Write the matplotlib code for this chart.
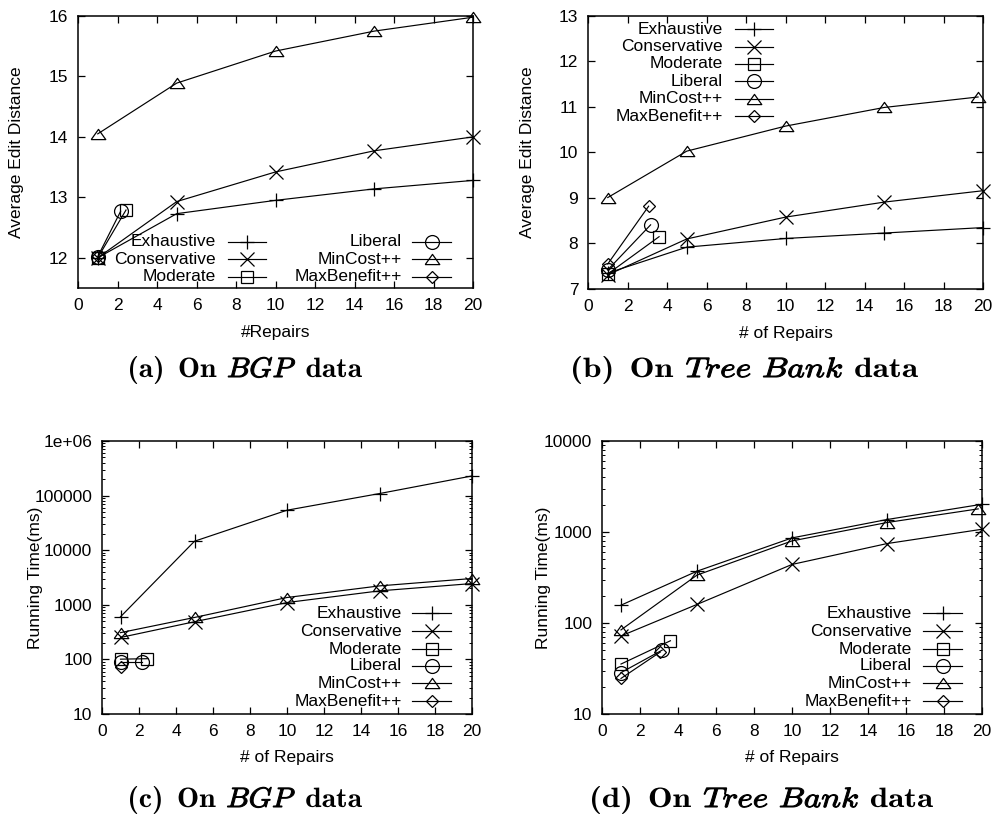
import matplotlib
matplotlib.use("Agg")
import matplotlib.pyplot as plt
from matplotlib.lines import Line2D
from matplotlib.patches import PathPatch
from matplotlib.textpath import TextPath
from matplotlib.font_manager import FontProperties
from matplotlib.transforms import Affine2D
from matplotlib.ticker import FixedLocator, FixedFormatter, LogLocator, NullFormatter

W, H = 1000, 821

series = ["Exhaustive", "Conservative", "Moderate", "Liberal", "MinCost++", "MaxBenefit++"]
repairs = [1, 5, 10, 15, 20]

# (a) average edit distance, BGP data
bgp_ed_x = {
    "Exhaustive": repairs,
    "Conservative": repairs,
    "Moderate": [1, 2.43],
    "Liberal": [1, 2.16],
    "MinCost++": repairs,
    "MaxBenefit++": [1],
}
bgp_ed_y = {
    "Exhaustive": [12.0, 12.73, 12.95, 13.14, 13.28],
    "Conservative": [12.0, 12.93, 13.42, 13.77, 14.0],
    "Moderate": [12.0, 12.79],
    "Liberal": [12.02, 12.77],
    "MinCost++": [14.05, 14.89, 15.42, 15.75, 15.98],
    "MaxBenefit++": [12.03],
}

# (b) average edit distance, Tree Bank data
tb_ed_x = {
    "Exhaustive": repairs,
    "Conservative": repairs,
    "Moderate": [1, 3.6],
    "Liberal": [1, 3.17],
    "MinCost++": [1, 5, 10, 15, 19.75],
    "MaxBenefit++": [1, 3.07],
}
tb_ed_y = {
    "Exhaustive": [7.35, 7.92, 8.11, 8.23, 8.35],
    "Conservative": [7.31, 8.10, 8.58, 8.91, 9.16],
    "Moderate": [7.33, 8.15],
    "Liberal": [7.42, 8.41],
    "MinCost++": [9.01, 10.03, 10.58, 10.99, 11.22],
    "MaxBenefit++": [7.55, 8.82],
}

# (c) running time (ms), BGP data
bgp_rt_x = {
    "Exhaustive": repairs,
    "Conservative": repairs,
    "Moderate": [1, 2.45],
    "Liberal": [1, 2.16],
    "MinCost++": repairs,
    "MaxBenefit++": [1],
}
bgp_rt_y = {
    "Exhaustive": [603, 14600, 54000, 109000, 229000],
    "Conservative": [252, 490, 1100, 1800, 2450],
    "Moderate": [101, 103],
    "Liberal": [91, 91],
    "MinCost++": [309, 586, 1360, 2220, 3030],
    "MaxBenefit++": [73],
}

# (d) running time (ms), Tree Bank data
tb_rt_x = {
    "Exhaustive": repairs,
    "Conservative": repairs,
    "Moderate": [1, 3.6],
    "Liberal": [1, 3.17],
    "MinCost++": [1, 5, 10, 15, 19.8],
    "MaxBenefit++": [1, 3.07],
}
tb_rt_y = {
    "Exhaustive": [157, 371, 861, 1371, 2018],
    "Conservative": [72, 160, 440, 746, 1072],
    "Moderate": [35.4, 63.8],
    "Liberal": [28.5, 50.4],
    "MinCost++": [84, 336, 798, 1271, 1795],
    "MaxBenefit++": [24.6, 48],
}

ed_bgp_ticks = [12, 13, 14, 15, 16]
ed_tb_ticks = [7, 8, 9, 10, 11, 12, 13]
rt_bgp_ticks = [10, 100, 1000, 10000, 100000, 1000000]
rt_bgp_labels = ["10", "100", "1000", "10000", "100000", "1e+06"]
rt_tb_ticks = [10, 100, 1000, 10000]
rt_tb_labels = ["10", "100", "1000", "10000"]
x_ticks = [0, 2, 4, 6, 8, 10, 12, 14, 16, 18, 20]

# gnuplot-like point types
tri = [(-1, -0.7), (1, -0.7), (0, 0.7), (-1, -0.7)]
styles = {
    "Exhaustive": dict(marker="+", ms=10),
    "Conservative": dict(marker="x", ms=9.5),
    "Moderate": dict(marker="s", ms=9),
    "Liberal": dict(marker="o", ms=10),
    "MinCost++": dict(marker=tri, ms=10.5),
    "MaxBenefit++": dict(marker="D", ms=5.8),
}
LW = 0.85
MEW = 0.9

plt.rcParams["font.family"] = ["Liberation Sans", "DejaVu Sans"]
plt.rcParams["font.size"] = 12.5

fig = plt.figure(figsize=(W / 100, H / 100), dpi=100)


def px_rect(l, t, r, b):
    return [l / W, 1 - b / H, (r - l) / W, (b - t) / H]


def fx(x):
    return x / W


def fy(y):
    return 1 - y / H


def style_axes(ax):
    for s in ax.spines.values():
        s.set_linewidth(1.1)
    ax.tick_params(which="major", direction="in", length=5, width=0.9,
                   top=True, right=True, labelsize=12.5)
    ax.tick_params(axis="x", which="major", pad=7)
    ax.tick_params(axis="y", which="major", pad=7)
    ax.tick_params(which="minor", direction="in", length=2.5, width=0.7,
                   top=True, right=True)
    ax.xaxis.set_major_locator(FixedLocator(x_ticks))
    ax.set_xlim(0, 20)


def plot_series(ax, xs, ys):
    for name in series:
        st = styles[name]
        ax.plot(xs[name], ys[name], color="black", lw=LW, marker=st["marker"],
                ms=st["ms"], mew=MEW, mfc="none", mec="black", clip_on=False,
                zorder=3)


def legend_entry(label, tx_right, y, x0, x1):
    st = styles[label]
    fig.text(fx(tx_right), fy(y), label, ha="right", va="center", fontsize=12.5)
    fig.add_artist(Line2D([fx(x0), fx(x1)], [fy(y), fy(y)], color="black", lw=LW,
                          transform=fig.transFigure))
    fig.add_artist(Line2D([fx((x0 + x1) / 2)], [fy(y)], color="black", lw=0,
                          marker=st["marker"], ms=st["ms"], mew=MEW, mfc="none",
                          mec="black", transform=fig.transFigure))


def axis_labels(ax, xlabel, ylabel, xl_y, yl_x):
    ax.set_xlabel(xlabel, fontsize=12.5)
    ax.set_ylabel(ylabel, fontsize=12.5)
    ax.xaxis.label.set(va="center", ha="center")
    ax.yaxis.label.set(va="center", ha="center", rotation_mode="default")
    ax.xaxis.set_label_coords(0.5, xl_y)
    ax.yaxis.set_label_coords(yl_x, 0.5)


# (a)
axa = fig.add_axes(px_rect(78, 16, 473, 288))
style_axes(axa)
plot_series(axa, bgp_ed_x, bgp_ed_y)
axa.set_ylim(11.5, 16)
axa.yaxis.set_major_locator(FixedLocator(ed_bgp_ticks))
axis_labels(axa, "#Repairs", "Average Edit Distance", -0.165, -0.155)

# (b)
axb = fig.add_axes(px_rect(588, 16, 983, 289))
style_axes(axb)
plot_series(axb, tb_ed_x, tb_ed_y)
axb.set_ylim(7, 13)
axb.yaxis.set_major_locator(FixedLocator(ed_tb_ticks))
axis_labels(axb, "# of Repairs", "Average Edit Distance", -0.162, -0.152)

# (c)
axc = fig.add_axes(px_rect(102, 441, 472, 714))
style_axes(axc)
plot_series(axc, bgp_rt_x, bgp_rt_y)
axc.set_yscale("log")
axc.set_ylim(10, 1e6)
axc.yaxis.set_major_locator(FixedLocator(rt_bgp_ticks))
axc.yaxis.set_major_formatter(FixedFormatter(rt_bgp_labels))
axc.yaxis.set_minor_locator(LogLocator(base=10, subs=range(2, 10)))
axc.yaxis.set_minor_formatter(NullFormatter())
axis_labels(axc, "# of Repairs", "Running Time(ms)", -0.161, -0.181)

# (d)
axd = fig.add_axes(px_rect(602, 441, 982, 714))
style_axes(axd)
plot_series(axd, tb_rt_x, tb_rt_y)
axd.set_yscale("log")
axd.set_ylim(10, 1e4)
axd.yaxis.set_major_locator(FixedLocator(rt_tb_ticks))
axd.yaxis.set_major_formatter(FixedFormatter(rt_tb_labels))
axd.yaxis.set_minor_locator(LogLocator(base=10, subs=range(2, 10)))
axd.yaxis.set_minor_formatter(NullFormatter())
axis_labels(axd, "# of Repairs", "Running Time(ms)", -0.161, -0.155)

# legends, drawn key-style: right-aligned text followed by a line sample
rows_a = [242, 259.3, 276.7]
for i, name in enumerate(series[:3]):
    legend_entry(name, 216, rows_a[i], 228, 266)
for i, name in enumerate(series[3:]):
    legend_entry(name, 402, rows_a[i], 412, 451)

rows_b = [29.3, 46.7, 64, 81.3, 98.7, 116.3]
for i, name in enumerate(series):
    legend_entry(name, 723, rows_b[i], 735, 773)

rows_cd = [613.3, 631, 649, 666, 683.3, 701]
for i, name in enumerate(series):
    legend_entry(name, 402, rows_cd[i], 412, 451)
    legend_entry(name, 912, rows_cd[i], 923, 962)

# sub-figure captions: Computer Modern bold with bold-italic dataset names,
# set as glyph outlines so each caption spans its sub-figure label slot
CAP_PX = 28
fp_bold = FontProperties(family="cmb10")
fp_ital = FontProperties(family="cmmi10")


def caption(x_left, x_right, baseline, words):
    parts = []
    for w, kind in words:
        tp = TextPath((0, 0), w, size=CAP_PX, prop=fp_bold if kind == "b" else fp_ital)
        parts.append((tp, tp.get_extents(), kind))
    gaps = [0.6 * CAP_PX] + [0.4 * CAP_PX] * (len(words) - 2) + [0]
    natural = sum(e.width for _, e, _ in parts) + sum(gaps)
    sx = (x_right - x_left) / natural
    x = x_left
    for (tp, ext, kind), g in zip(parts, gaps):
        tr = Affine2D().translate(-ext.x0, 0).scale(sx, 1).translate(x, H - baseline)
        fig.add_artist(PathPatch(tp, transform=tr, facecolor="black", edgecolor="black",
                                 lw=0.75 if kind == "i" else 0.0))
        x += (ext.width + g) * sx


caption(130, 362, 377, [("(a)", "b"), ("On", "b"), ("BGP", "i"), ("data", "b")])
caption(573, 918, 377, [("(b)", "b"), ("On", "b"), ("Tree", "i"), ("Bank", "i"), ("data", "b")])
caption(130, 362, 807, [("(c)", "b"), ("On", "b"), ("BGP", "i"), ("data", "b")])
caption(592, 933, 807, [("(d)", "b"), ("On", "b"), ("Tree", "i"), ("Bank", "i"), ("data", "b")])

fig.savefig("out.png", dpi=100)
